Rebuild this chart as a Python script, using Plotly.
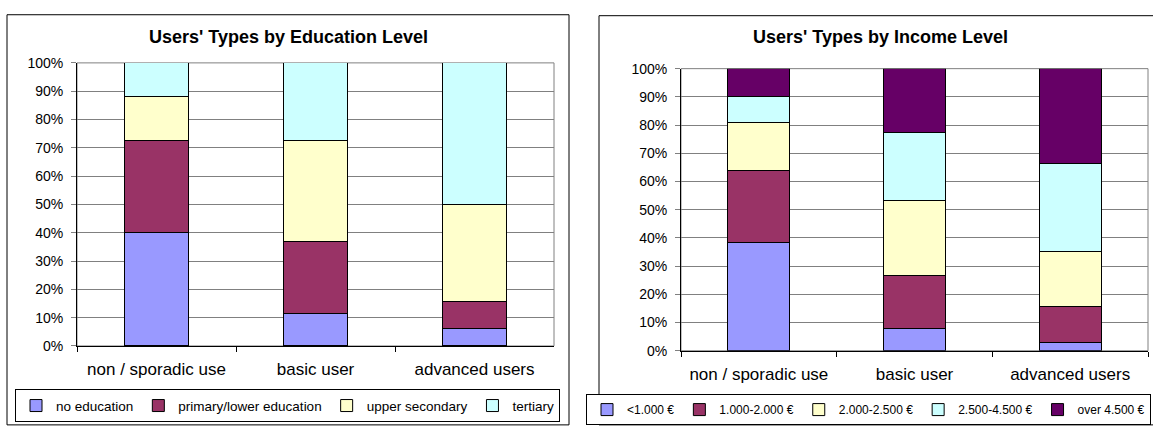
import plotly.graph_objects as go

W, H = 1153, 430

categories = ["non / sporadic use", "basic user", "advanced users"]

# Education chart (shares, %)
edu_names = ["no education", "primary/lower education", "upper secondary", "tertiary"]
edu_no_education = [40.0, 11.5, 6.0]
edu_primary = [32.4, 25.3, 9.6]
edu_upper_secondary = [15.7, 35.6, 34.4]
edu_tertiary = [11.9, 27.6, 50.0]

# Income chart (shares, %)
inc_names = ["<1.000 €", "1.000-2.000 €", "2.000-2.500 €", "2.500-4.500 €", "over 4.500 €"]
inc_lt_1000 = [38.5, 7.8, 2.9]
inc_1000_2000 = [25.5, 19.0, 12.8]
inc_2000_2500 = [17.0, 26.3, 19.6]
inc_2500_4500 = [9.3, 24.3, 31.1]
inc_over_4500 = [9.7, 22.6, 33.6]

colors = ["#9999FF", "#993366", "#FFFFCC", "#CCFFFF", "#660066"]
FONT = "Liberation Sans, Arial, sans-serif"

fig = go.Figure()

edu_series = [edu_no_education, edu_primary, edu_upper_secondary, edu_tertiary]
for i, (name, vals) in enumerate(zip(edu_names, edu_series)):
    fig.add_trace(go.Bar(
        x=categories, y=[v / 100 for v in vals], name=name,
        marker=dict(color=colors[i], line=dict(color="black", width=1)),
        xaxis="x", yaxis="y", legend="legend",
    ))

inc_series = [inc_lt_1000, inc_1000_2000, inc_2000_2500, inc_2500_4500, inc_over_4500]
for i, (name, vals) in enumerate(zip(inc_names, inc_series)):
    fig.add_trace(go.Bar(
        x=categories, y=[v / 100 for v in vals], name=name,
        marker=dict(color=colors[i], line=dict(color="black", width=1)),
        xaxis="x2", yaxis="y2", legend="legend2",
    ))

def px_x(v):
    return v / W

def px_y(v):
    return 1 - v / H

xaxis_common = dict(
    type="category", tickson="boundaries", ticks="outside", ticklen=5,
    tickcolor="black", showline=True, linecolor="black", linewidth=1,
    showgrid=False, tickfont=dict(family=FONT, size=17, color="black"),
    ticklabelstandoff=8, fixedrange=True,
)
yaxis_common = dict(
    range=[0, 1], dtick=0.1, tickformat=".0%", ticks="outside", ticklen=5,
    tickcolor="#808080", showline=True, linecolor="black", linewidth=1,
    showgrid=True, gridcolor="#808080", gridwidth=1, zeroline=False,
    tickfont=dict(family=FONT, size=14, color="black"), ticklabelstandoff=5,
    fixedrange=True,
)
legend_common = dict(
    orientation="h", bordercolor="black", borderwidth=1, bgcolor="white",
    traceorder="normal", itemclick=False, itemdoubleclick=False,
    tracegroupgap=0, yanchor="top",
)

fig.update_layout(
    width=W, height=H,
    margin=dict(l=0, r=0, t=0, b=0),
    paper_bgcolor="white", plot_bgcolor="white",
    barmode="stack", bargap=0.6,
    font=dict(family=FONT, color="black"),
    xaxis=dict(domain=[px_x(77), px_x(554)], anchor="y", **xaxis_common),
    yaxis=dict(domain=[px_y(351), px_y(57)], anchor="x", **yaxis_common),
    xaxis2=dict(domain=[px_x(681), px_x(1148)], anchor="y2", **xaxis_common),
    yaxis2=dict(domain=[px_y(356), px_y(63)], anchor="x2", **yaxis_common),
    legend=dict(x=px_x(287.5), y=px_y(396), xanchor="center",
                font=dict(family=FONT, size=13.5, color="black"), **legend_common),
    legend2=dict(x=px_x(1151), y=px_y(401), xanchor="right",
                 font=dict(family=FONT, size=12, color="black"), **legend_common),
    showlegend=True,
    annotations=[
        dict(text="<b>Users' Types by Education Level</b>", xref="paper", yref="paper",
             x=px_x(288), y=px_y(30), xanchor="center", yanchor="middle", showarrow=False,
             font=dict(family=FONT, size=18, color="black")),
        dict(text="<b>Users' Types by Income Level</b>", xref="paper", yref="paper",
             x=px_x(880), y=px_y(30), xanchor="center", yanchor="middle", showarrow=False,
             font=dict(family=FONT, size=18, color="black")),
    ],
    shapes=[
        # outer chart borders
        dict(type="rect", xref="paper", yref="paper",
             x0=px_x(7), x1=px_x(569), y0=px_y(433), y1=px_y(7),
             line=dict(color="black", width=1), fillcolor="rgba(0,0,0,0)", layer="below"),
        dict(type="rect", xref="paper", yref="paper",
             x0=px_x(599), x1=px_x(1160), y0=px_y(433), y1=px_y(8),
             line=dict(color="black", width=1), fillcolor="rgba(0,0,0,0)", layer="below"),
        # plot-area borders (grey)
        dict(type="rect", xref="x domain", yref="y domain", x0=0, x1=1, y0=0, y1=1,
             line=dict(color="#808080", width=1), layer="below"),
        dict(type="rect", xref="x2 domain", yref="y2 domain", x0=0, x1=1, y0=0, y1=1,
             line=dict(color="#808080", width=1), layer="below"),
    ],
)

fig.write_html(
    "out.html",
    config={"displayModeBar": False},
    post_script="document.body.style.margin='0';document.body.style.overflow='hidden';",
)
